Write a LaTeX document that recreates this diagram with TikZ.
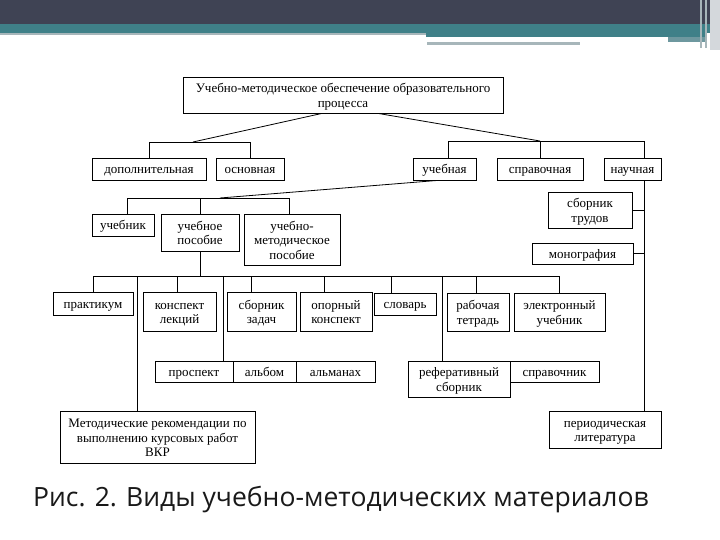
\documentclass[tikz,border=0pt]{standalone}
\usepackage{fontspec}
\setmainfont{Liberation Serif}
\newfontfamily\capfont{Open Sans}
\definecolor{cdark}{HTML}{3F4354}
\definecolor{cteal}{HTML}{3F8088}
\definecolor{cgray}{HTML}{A7B6BA}
\definecolor{clight}{HTML}{D4D8DC}
\newcommand\bxt[1]{\rule[-4.35pt]{0pt}{19pt}#1\rule[-4.35pt]{0pt}{10pt}}
\begin{document}
\begin{tikzpicture}[x=1pt,y=-1pt,
  bxbase/.style={draw, line width=0.8pt, inner sep=0pt, font=\fontsize{13}{14.5}\selectfont},
  bx/.style={bxbase, align=center},
  bxone/.style={bxbase, text height=13pt, text depth=3.5pt},
  ln/.style={line width=0.8pt}]
\useasboundingbox (0,0) rectangle (720,540);
\fill[white] (0,0) rectangle (720,540);
% slide header
\fill[cdark] (0,0) rectangle (720,24);
\fill[cteal] (0,24) rectangle (720,33);
\fill[cteal] (426,33) rectangle (705,37);
\fill[cgray] (0,33) rectangle (426,35.5);
\fill[cteal!55!cgray] (668,37) rectangle (705,42);
\fill[cgray] (427,42.5) rectangle (580,45.5);
\fill[clight] (710,0) rectangle (720,50);
\fill[cgray] (700,0) rectangle (702,48);
\fill[cgray] (705,0) rectangle (707,48);

% boxes
\node[bx, minimum width=320pt, minimum height=36pt] (top) at (343,95) {\bxt{Учебно-методическое обеспечение образовательного\\процесса}};
\node[bxone, minimum width=114pt, minimum height=22pt] (dop) at (149,169) {дополнительная};
\node[bxone, minimum width=68pt, minimum height=22pt] (osn) at (250,169) {основная};
\node[bxone, minimum width=63pt, minimum height=22pt] (ucheb) at (444.5,169) {учебная};
\node[bxone, minimum width=86pt, minimum height=22pt] (sprav) at (540,169) {справочная};
\node[bxone, minimum width=57pt, minimum height=22pt] (nauch) at (632.5,169) {научная};

\node[bxone, minimum width=62pt, minimum height=22pt] (uchebnik) at (123,225) {учебник};
\node[bx, minimum width=78pt, minimum height=37pt] (uchpos) at (200,232.5) {\bxt{учебное\\пособие}};
\node[bx, minimum width=96pt, minimum height=51pt] (ump) at (292,239.5) {\bxt{учебно-\\методическое\\пособие}};
\node[bx, minimum width=84pt, minimum height=36pt] (sbtrud) at (590,210) {\bxt{сборник\\трудов}};
\node[bxone, minimum width=101pt, minimum height=21pt] (monogr) at (582.5,253.5) {монография};

\node[bxone, minimum width=80pt, minimum height=23pt] (prakt) at (93,303.5) {практикум};
\node[bx, minimum width=73pt, minimum height=39pt] (konsp) at (179.5,311.5) {\bxt{конспект\\лекций}};
\node[bx, minimum width=69pt, minimum height=39pt] (sbzad) at (261.5,311.5) {\bxt{сборник\\задач}};
\node[bx, minimum width=72pt, minimum height=39pt] (opor) at (336,311.5) {\bxt{опорный\\конспект}};
\node[bxone, minimum width=62pt, minimum height=22pt] (slovar) at (405,304) {словарь};
\node[bx, minimum width=62pt, minimum height=38pt] (rab) at (478,312) {\bxt{рабочая\\тетрадь}};
\node[bx, minimum width=91pt, minimum height=38pt] (elek) at (559.5,312) {\bxt{электронный\\учебник}};

\node[bxone, minimum width=78pt, minimum height=21pt] (prosp) at (194,371.5) {проспект};
\node[bxone, minimum width=63pt, minimum height=21pt] (albom) at (264.5,371.5) {альбом};
\node[bxone, minimum width=79pt, minimum height=21pt] (alman) at (335.5,371.5) {альманах};
\node[bx, minimum width=102pt, minimum height=36pt] (refer) at (459,379) {\bxt{реферативный\\сборник}};
\node[bxone, minimum width=89pt, minimum height=21pt] (spravn) at (554.5,371.5) {справочник};

\node[bx, minimum width=195pt, minimum height=52pt] (metod) at (157.5,437) {\bxt{Методические рекомендации по\\выполнению курсовых работ\\ВКР}};
\node[bx, minimum width=112pt, minimum height=37pt] (period) at (605,429.5) {\bxt{периодическая\\литература}};

% connectors level 1
\coordinate (dL) at (193,142);
\draw[ln] ([xshift=-21pt]top.south) -- (dL);
\draw[ln] (dop.north) -- (dop.north |- dL) -- (osn.north |- dL) -- (osn.north);
\coordinate (dR) at (540,141);
\draw[ln] ([xshift=35pt]top.south) -- (dR);
\coordinate (u1) at ([xshift=3.5pt]ucheb.north);
\coordinate (n1) at ([xshift=11.5pt]nauch.north);
\draw[ln] (u1) -- (u1 |- dR) -- (n1 |- dR) -- (n1);
\draw[ln] (sprav.north) -- (sprav.north |- dR);

% level 2
\coordinate (d2) at (220,198);
\draw[ln] ([xshift=-6.5pt]ucheb.south) -- (d2);
\coordinate (b1) at ([xshift=4pt]uchebnik.north);
\coordinate (b3) at ([xshift=-3pt]ump.north);
\draw[ln] (b1) -- (b1 |- d2) -- (b3 |- d2) -- (b3);
\draw[ln] (uchpos.north) -- (uchpos.north |- d2);

% научная branch
\coordinate (n2) at ([xshift=11.5pt]nauch.south);
\coordinate (n3) at ([xshift=39pt]period.north);
\draw[ln] (n2) -- (n3);
\draw[ln] (sbtrud.east) -- (sbtrud.east -| n2);
\draw[ln] (monogr.east) -- (monogr.east -| n2);

% level 3
\coordinate (d3) at (0,276);
\draw[ln] (uchpos.south) -- (uchpos.south |- d3);
\draw[ln] (prakt.north) -- (prakt.north |- d3) -- (elek.north |- d3) -- (elek.north);
\coordinate (k1) at ([xshift=-2.5pt]konsp.north);
\coordinate (k2) at ([xshift=-10.5pt]sbzad.north);
\coordinate (k3) at ([xshift=-12pt]opor.north);
\coordinate (k4) at ([xshift=-14pt]slovar.north);
\coordinate (k5) at ([xshift=-2pt]rab.north);
\coordinate (k6) at ([xshift=29pt]prosp.north);
\coordinate (k7) at ([xshift=-17pt]refer.north);
\coordinate (k8) at ([xshift=-20.5pt]metod.north);
\foreach \k in {k1,k2,k3,k4,k5,k6,k7,k8}
  \draw[ln] (\k) -- (\k |- d3);

% caption
\node[anchor=base west, inner sep=0pt, font=\capfont\fontsize{26.5}{32}\selectfont, text=black!90] (cap) at (33,506) {Рис. 2. Виды учебно-методических материалов};
\end{tikzpicture}
\end{document}
